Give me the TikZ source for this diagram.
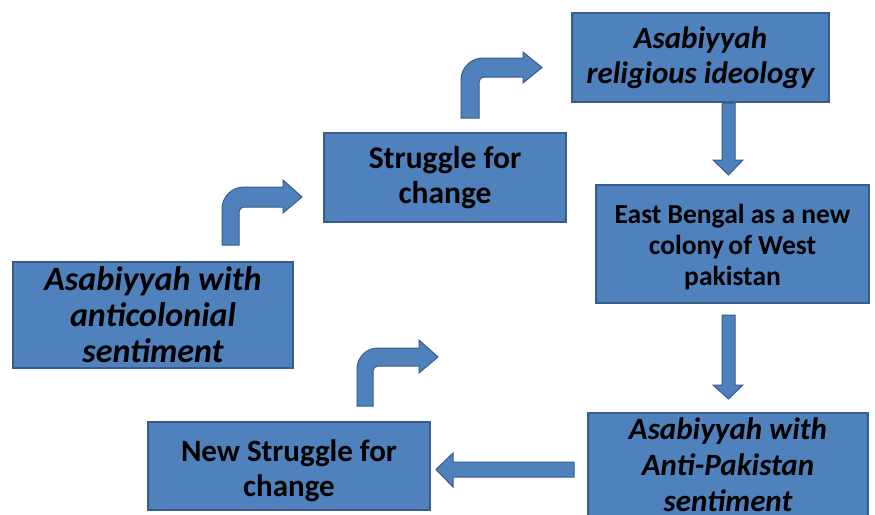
\documentclass[tikz,border=0pt]{standalone}
\usepackage{fontspec}
\setmainfont{Carlito}
\definecolor{boxfill}{HTML}{4F81BD}
\definecolor{boxline}{HTML}{385D8A}
\newcommand{\fs}[2]{\fontsize{#1}{#2}\selectfont}
\begin{document}
\begin{tikzpicture}[x=1pt,y=-1pt,
  stage/.style={draw=boxline, fill=boxfill, line width=1.6pt, align=center,
    inner sep=0pt, text=black},
  caption/.style={align=center, inner sep=0pt, text=black},
  blockarrow/.style={draw=boxline, fill=boxfill, line width=1pt, line join=miter}]
\useasboundingbox (0,0) rectangle (875,514);
\fill[white] (0,0) rectangle (875,514);

% stages
\node[stage, minimum width=280, minimum height=106,
  font=\bfseries\itshape\fs{34}{36}] (anticol) at (153,315)
  {Asabiyyah with\\ anticolonial\\ sentiment};
\node[stage, minimum width=242, minimum height=89,
  font=\bfseries\fs{31.5}{35}] (struggle) at (445,177.5)
  {Struggle for\\ change};
\node[stage, minimum width=257, minimum height=89,
  font=\bfseries\itshape\fs{31}{35}] (religious) at (700.5,57.5)
  {Asabiyyah\\ religious ideology};
\node[stage, minimum width=273, minimum height=118] (colony) at (732.5,244) {};
\node[caption, font=\bfseries\fs{27.5}{31}] (colonytext) at ([yshift=-3pt]colony.center)
  {East Bengal as a new\\ colony\,of West\\ pakistan};
\node[stage, minimum width=280, minimum height=104,
  font=\bfseries\itshape\fs{31}{36}] (antipak) at (728,465)
  {Asabiyyah with\\ Anti-Pakistan\\ sentiment};
\node[stage, minimum width=282, minimum height=88] (newstruggle) at (289,466) {};
\node[caption, font=\bfseries\fs{31}{35}] (newstruggletext) at ([yshift=-5pt]newstruggle.center)
  {New Struggle for\\ change};

% bent arrows between the stages
\draw[blockarrow] (222,245) -- (222,209) .. controls (222,196.9) and (231.9,187) .. (244,187)
  -- (283,187) -- (283,180) -- (302,197) -- (283,213) -- (283,207) -- (244,207)
  .. controls (241.2,207) and (239,209.2) .. (239,212) -- (239,245) -- cycle;
\draw[blockarrow] (461,118) -- (461,80) .. controls (461,67.9) and (470.9,58) .. (483,58)
  -- (523,58) -- (523,52) -- (542,67.5) -- (523,83) -- (523,77) -- (484,77)
  .. controls (481.2,77) and (479,79.2) .. (479,82) -- (479,118) -- cycle;
\draw[blockarrow] (357,406) -- (357,369) .. controls (357,357.4) and (366.4,348) .. (378,348)
  -- (419,348) -- (419,340) -- (438,357) -- (419,373) -- (419,366) -- (378,366)
  .. controls (375.2,366) and (373,368.2) .. (373,371) -- (373,406) -- cycle;

% straight arrows
\draw[blockarrow] (722,103) -- (735,103) -- (735,160) -- (743,160) -- (728.5,175)
  -- (713,160) -- (722,160) -- cycle;
\draw[blockarrow] (722,315) -- (735,315) -- (735,385) -- (743,385) -- (728.5,399)
  -- (713,385) -- (722,385) -- cycle;
\draw[blockarrow] (574,462) -- (574,477) -- (453,477) -- (453,487) -- (436,469.5)
  -- (453,453) -- (453,462) -- cycle;
\end{tikzpicture}
\end{document}
